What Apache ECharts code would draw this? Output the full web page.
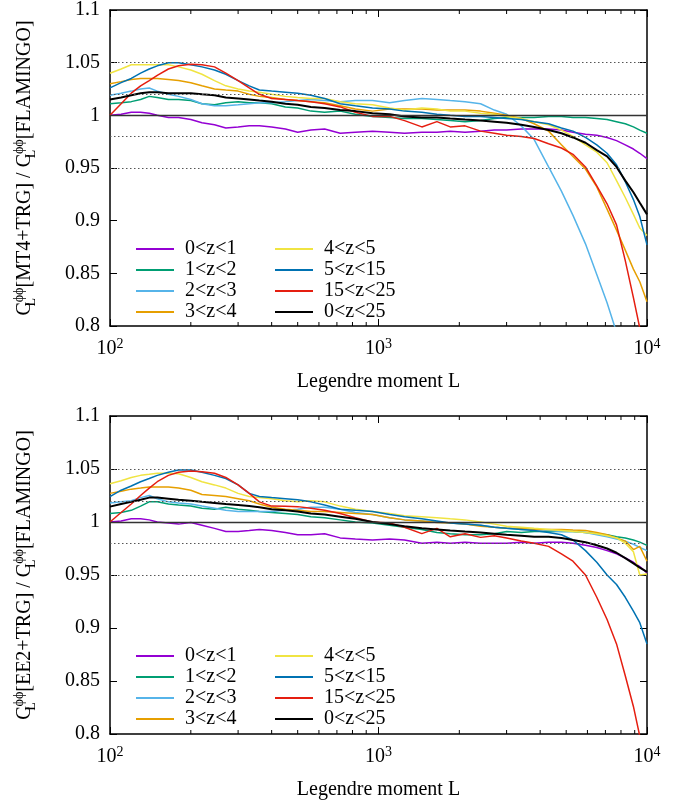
<!DOCTYPE html>
<html><head><meta charset="utf-8">
<script src="https://cdn.jsdelivr.net/npm/echarts@6/dist/echarts.min.js"></script>
<style>html,body{margin:0;padding:0;background:#fff}#c{width:681px;height:802px}</style>
</head><body><div id="c"></div>
<script>
// Legendre moment sample points
const L = [100,110,120,130,140,150,165,180,200,220,245,270,300,330,360,400,450,500,560,630,720,820,950,1100,1250,1450,1650,1850,2100,2400,2700,3000,3400,3800,4300,4800,5300,5900,6500,7100,7700,8300,8900,9400,10000];
const seriesNames = ['0<z<1','1<z<2','2<z<3','3<z<4','4<z<5','5<z<15','15<z<25','0<z<25'];
const seriesColors = ['#9400d3','#009e73','#56b4e9','#e69f00','#f0e442','#0072b2','#e51e10','#000000'];
const minorL = [200,300,400,500,600,700,800,900,2000,3000,4000,5000,6000,7000,8000,9000];
const refDotted = [1.05,1.02,0.98,0.95];
const refSolid = [1.0];

// Top panel: MT4+TRG / FLAMINGO
const mt4_z0_1 = [1.000,1.001,1.003,1.003,1.002,1.000,0.998,0.998,0.996,0.993,0.991,0.988,0.989,0.990,0.990,0.989,0.987,0.984,0.986,0.987,0.983,0.984,0.985,0.984,0.983,0.984,0.984,0.985,0.984,0.985,0.986,0.986,0.987,0.987,0.987,0.986,0.984,0.982,0.981,0.979,0.976,0.972,0.968,0.964,0.959];
const mt4_z1_2 = [1.011,1.012,1.013,1.015,1.018,1.017,1.015,1.015,1.014,1.011,1.010,1.012,1.013,1.012,1.012,1.011,1.008,1.007,1.004,1.003,1.004,1.001,0.999,0.998,0.997,0.997,0.996,0.995,0.994,0.995,0.997,0.998,0.998,0.998,0.999,0.999,0.998,0.998,0.997,0.996,0.994,0.992,0.989,0.986,0.983];
const mt4_z2_3 = [1.019,1.021,1.023,1.025,1.026,1.023,1.020,1.018,1.015,1.011,1.009,1.009,1.010,1.011,1.012,1.012,1.013,1.014,1.015,1.014,1.013,1.014,1.014,1.012,1.014,1.016,1.015,1.014,1.013,1.011,1.005,1.001,0.990,0.977,0.951,0.928,0.905,0.878,0.849,0.822,0.794,null,null,null,null];
const mt4_z3_4 = [1.030,1.032,1.034,1.035,1.035,1.035,1.034,1.033,1.031,1.028,1.025,1.024,1.023,1.020,1.018,1.017,1.015,1.014,1.013,1.012,1.009,1.006,1.004,1.006,1.006,1.006,1.005,1.005,1.005,1.004,1.002,1.000,0.997,0.992,0.985,0.972,0.961,0.949,0.932,0.911,0.891,0.872,0.854,0.842,0.823];
const mt4_z4_5 = [1.040,1.044,1.048,1.048,1.048,1.048,1.048,1.046,1.043,1.039,1.033,1.028,1.025,1.023,1.022,1.020,1.018,1.017,1.016,1.016,1.013,1.011,1.010,1.007,1.005,1.007,1.006,1.004,1.004,1.002,1.001,0.999,0.997,0.994,0.991,0.986,0.980,0.972,0.965,0.955,0.938,0.922,0.906,0.893,0.886];
const mt4_z5_15 = [1.026,1.031,1.035,1.040,1.044,1.047,1.050,1.050,1.048,1.046,1.043,1.039,1.033,1.028,1.024,1.023,1.022,1.021,1.019,1.016,1.011,1.009,1.007,1.006,1.004,1.003,1.001,1.000,0.999,0.999,0.998,0.997,0.996,0.994,0.992,0.988,0.985,0.979,0.972,0.964,0.953,0.937,0.920,0.904,0.877];
const mt4_z15_25 = [1.000,1.011,1.021,1.028,1.033,1.038,1.044,1.047,1.0485,1.048,1.046,1.040,1.033,1.026,1.020,1.016,1.015,1.014,1.013,1.011,1.008,1.003,0.999,0.999,0.995,0.989,0.994,0.989,0.990,0.985,0.983,0.981,0.980,0.978,0.973,0.969,0.963,0.951,0.933,0.916,0.896,0.862,0.827,0.798,null];
const mt4_z0_25 = [1.015,1.017,1.019,1.021,1.022,1.022,1.021,1.021,1.021,1.020,1.019,1.017,1.016,1.015,1.014,1.013,1.011,1.010,1.008,1.007,1.005,1.004,1.002,1.001,0.999,0.998,0.998,0.997,0.996,0.995,0.994,0.993,0.991,0.989,0.986,0.983,0.979,0.974,0.967,0.961,0.951,0.938,0.927,0.917,0.906];

// Bottom panel: EE2+TRG / FLAMINGO
const ee2_z0_1 = [1.000,1.001,1.003,1.003,1.002,1.000,0.999,0.998,0.9995,0.997,0.994,0.991,0.991,0.992,0.993,0.992,0.990,0.988,0.988,0.989,0.985,0.984,0.983,0.984,0.983,0.980,0.981,0.980,0.981,0.980,0.980,0.980,0.981,0.980,0.981,0.981,0.980,0.978,0.976,0.973,0.970,0.966,0.962,0.958,0.952];
const ee2_z1_2 = [1.008,1.009,1.011,1.015,1.019,1.019,1.017,1.016,1.015,1.013,1.012,1.014,1.012,1.011,1.010,1.009,1.008,1.007,1.005,1.004,1.002,1.000,0.999,0.997,0.995,0.993,0.990,0.989,0.988,0.988,0.989,0.991,0.990,0.991,0.991,0.991,0.991,0.990,0.989,0.988,0.986,0.985,0.983,0.981,0.978];
const ee2_z2_3 = [1.018,1.019,1.020,1.023,1.025,1.022,1.019,1.018,1.017,1.015,1.013,1.011,1.010,1.010,1.010,1.010,1.011,1.012,1.014,1.014,1.012,1.009,1.007,1.004,1.002,1.001,1.000,0.999,0.998,0.997,0.995,0.994,0.993,0.993,0.992,0.991,0.991,0.990,0.988,0.986,0.984,0.982,0.979,0.976,0.973];
const ee2_z3_4 = [1.027,1.029,1.031,1.032,1.033,1.033,1.033,1.032,1.030,1.026,1.025,1.024,1.022,1.020,1.017,1.014,1.012,1.011,1.010,1.010,1.009,1.008,1.007,1.004,1.002,1.001,0.9995,0.999,0.998,0.996,0.995,0.994,0.994,0.993,0.993,0.993,0.9925,0.992,0.990,0.988,0.985,0.982,0.974,0.977,0.963];
const ee2_z4_5 = [1.036,1.039,1.042,1.044,1.045,1.046,1.046,1.0455,1.042,1.038,1.035,1.032,1.027,1.024,1.023,1.022,1.020,1.019,1.020,1.019,1.015,1.012,1.010,1.008,1.006,1.005,1.004,1.003,1.002,1.000,0.998,0.996,0.995,0.994,0.993,0.992,0.991,0.990,0.989,0.987,0.985,0.980,0.972,0.950,0.951];
const ee2_z5_15 = [1.024,1.030,1.034,1.038,1.041,1.044,1.047,1.049,1.049,1.047,1.044,1.041,1.035,1.027,1.024,1.023,1.022,1.021,1.019,1.016,1.012,1.011,1.010,1.007,1.005,1.003,1.001,0.999,0.998,0.997,0.995,0.994,0.993,0.992,0.990,0.988,0.983,0.973,0.962,0.950,0.941,0.929,0.916,0.905,0.885];
const ee2_z15_25 = [1.000,1.009,1.017,1.025,1.032,1.038,1.044,1.047,1.048,1.0475,1.046,1.042,1.035,1.027,1.019,1.015,1.0148,1.0145,1.013,1.011,1.008,1.004,1.000,0.999,0.995,0.989,0.994,0.986,0.989,0.9855,0.987,0.985,0.982,0.980,0.977,0.970,0.963,0.950,0.929,0.908,0.885,0.855,0.826,0.798,null];
const ee2_z0_25 = [1.0145,1.017,1.019,1.021,1.023,1.023,1.022,1.021,1.020,1.019,1.018,1.017,1.016,1.015,1.014,1.012,1.011,1.010,1.008,1.007,1.005,1.003,1.000,0.998,0.996,0.994,0.993,0.992,0.991,0.990,0.989,0.988,0.987,0.986,0.986,0.985,0.983,0.981,0.978,0.975,0.971,0.966,0.961,0.957,0.953];

const mt4 = [mt4_z0_1,mt4_z1_2,mt4_z2_3,mt4_z3_4,mt4_z4_5,mt4_z5_15,mt4_z15_25,mt4_z0_25];
const ee2 = [ee2_z0_1,ee2_z1_2,ee2_z2_3,ee2_z3_4,ee2_z4_5,ee2_z5_15,ee2_z15_25,ee2_z0_25];

const FONT = 'Liberation Serif';
const grids = [
  {left:110, top:8, width:537, height:318},
  {left:110, top:416, width:537, height:318}
];
const yNames = [
  'C{sub|L}{sup|ϕϕ}[MT4+TRG] / C{sub|L}{sup|ϕϕ}[FLAMINGO]',
  'C{sub|L}{sup|ϕϕ}[EE2+TRG] / C{sub|L}{sup|ϕϕ}[FLAMINGO]'
];
const richSS = {
  sub:{fontFamily:FONT,fontSize:14,lineHeight:12,verticalAlign:'bottom',width:0,color:'#000'},
  sup:{fontFamily:FONT,fontSize:14,lineHeight:12,verticalAlign:'top',color:'#000'}
};
const axisLineStyle = {color:'#000', width:1.5};

const xAxis = [], yAxis = [], series = [];
grids.forEach((g, gi) => {
  xAxis.push({
    type:'log', logBase:10, min:100, max:10000, gridIndex:gi, position:'bottom',
    axisLine:{lineStyle:axisLineStyle}, axisTick:{inside:true, length:7, lineStyle:{color:'#000'}},
    axisLabel:{fontFamily:FONT, fontSize:20, lineHeight:24, color:'#000', margin:11,
      formatter:v => '10{sup|' + Math.round(Math.log10(v)) + '}',
      rich:{sup:{fontFamily:FONT,fontSize:14,lineHeight:12,verticalAlign:'top',color:'#000'}}},
    splitLine:{show:false},
    name:'Legendre moment L', nameLocation:'middle', nameGap:46,
    nameTextStyle:{fontFamily:FONT, fontSize:20, color:'#000'}
  });
  xAxis.push({
    type:'log', logBase:10, min:100, max:10000, gridIndex:gi, position:'top',
    axisLine:{lineStyle:axisLineStyle}, axisTick:{inside:true, length:7, lineStyle:{color:'#000'}},
    axisLabel:{show:false}, splitLine:{show:false}
  });
  yAxis.push({
    type:'value', min:0.8, max:1.1, interval:0.05, gridIndex:gi, position:'left',
    axisLine:{lineStyle:axisLineStyle}, axisTick:{inside:true, length:7, lineStyle:{color:'#000'}},
    axisLabel:{fontFamily:FONT, fontSize:20, color:'#000', margin:10, formatter:v => String(+v.toFixed(2))},
    splitLine:{show:false},
    name:yNames[gi], nameLocation:'middle', nameRotate:90, nameGap:72,
    nameTextStyle:{fontFamily:FONT, fontSize:20, lineHeight:26, color:'#000', rich:richSS}
  });
  yAxis.push({
    type:'value', min:0.8, max:1.1, interval:0.05, gridIndex:gi, position:'right',
    axisLine:{lineStyle:axisLineStyle}, axisTick:{inside:true, length:7, lineStyle:{color:'#000'}},
    axisLabel:{show:false}, splitLine:{show:false}
  });
  const data = gi === 0 ? mt4 : ee2;
  data.forEach((vals, si) => {
    const s = {
      type:'line', name:seriesNames[si], xAxisIndex:gi*2, yAxisIndex:gi*2,
      data:L.map((x, k) => [x, vals[k]]), showSymbol:false, symbol:'none', clip:true,
      lineStyle:{color:seriesColors[si], width: si === 7 ? 2 : 1.5},
      itemStyle:{color:seriesColors[si]}, silent:true, connectNulls:false
    };
    if (si === 0) {
      s.markLine = {
        silent:true, symbol:'none', label:{show:false}, animation:false,
        data: refDotted.map(v => ({yAxis:v, lineStyle:{type:[1.5,2.5], color:'#555', width:1}}))
          .concat(refSolid.map(v => ({yAxis:v, lineStyle:{type:'solid', color:'#333', width:1.3}})))
      };
    }
    series.push(s);
  });
  series.push({
    type:'custom', xAxisIndex:gi*2, yAxisIndex:gi*2, silent:true, z:5,
    data:minorL.map(v => [v, 1]),
    renderItem:(params, api) => {
      const x = api.coord([api.value(0), 1])[0];
      const cs = params.coordSys;
      return {type:'group', children:[
        {type:'line', shape:{x1:x, y1:cs.y+cs.height, x2:x, y2:cs.y+cs.height-4}, style:{stroke:'#000', lineWidth:1}},
        {type:'line', shape:{x1:x, y1:cs.y, x2:x, y2:cs.y+4}, style:{stroke:'#000', lineWidth:1}}
      ]};
    }
  });
});

const legendBase = {orient:'vertical', icon:'rect', itemWidth:38, itemHeight:2, itemGap:1,
  textStyle:{fontFamily:FONT, fontSize:20, lineHeight:20, color:'#000', padding:[0,0,0,6]},
  selectedMode:false};
const legend = [
  Object.assign({}, legendBase, {left:131, top:234, data:seriesNames.slice(0,4)}),
  Object.assign({}, legendBase, {left:270, top:234, data:seriesNames.slice(4)}),
  Object.assign({}, legendBase, {left:131, top:641, data:seriesNames.slice(0,4)}),
  Object.assign({}, legendBase, {left:270, top:641, data:seriesNames.slice(4)})
];

const chart = echarts.init(document.getElementById('c'), null, {renderer:'canvas'});
chart.setOption({animation:false, backgroundColor:'#fff', grid:grids, xAxis, yAxis, series, legend});
</script>
</body></html>
